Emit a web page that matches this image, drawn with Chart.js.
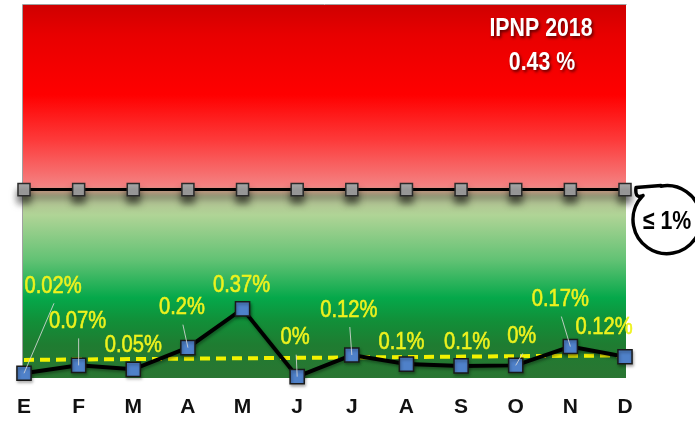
<!DOCTYPE html>
<html><head><meta charset="utf-8">
<script src="https://cdn.jsdelivr.net/npm/chart.js@4/dist/chart.umd.min.js"></script>
<style>html,body{margin:0;padding:0;background:#fff;}#wrap{width:695px;height:421px;}</style>
</head><body><div id="wrap"><canvas id="c" width="695" height="421"></canvas></div>
<script>
// ---- data ----
const months = ['E','F','M','A','M','J','J','A','S','O','N','D'];
const monthlyValues = [0.025,0.067,0.046,0.161,0.367,0.007,0.122,0.074,0.064,0.067,0.167,0.113];
const valueLabels = ['0.02%','0.07%','0.05%','0.2%','0.37%','0%','0.12%','0.1%','0.1%','0%','0.17%','0.12%'];
const limitValues = [1,1,1,1,1,1,1,1,1,1,1,1];
const trendValues = [0.096,null,null,null,null,null,null,null,null,null,null,0.12];
const titleLines = ['IPNP 2018','0.43 %'];
const limitLabel = '≤ 1%';

// ---- layout / style (not data) ----
const FONT = "'Liberation Sans',Arial,sans-serif";
const NARROW = 0.82;
const labelOffsets = [[29,-88],[-1,-45],[0,-25],[-6,-41],[-1,-24],[-2,-40],[-3,-46],[-5,-23],[6,-25],[6,-30],[-10,-48],[-21,-30]];
const leaderOn = [1,1,0,1,0,1,1,0,0,1,1,0];

function narrowText(ctx, txt, x, y, sx){
  ctx.save(); ctx.translate(x, y); ctx.scale(sx || NARROW, 1); ctx.fillText(txt, 0, 0); ctx.restore();
}

const bgPlugin = {
  id:'bg',
  beforeDatasetsDraw(chart){
    const {ctx, chartArea:a} = chart;
    const top = a.top, bot = a.bottom, h = bot - top;
    const g = ctx.createLinearGradient(0, top, 0, bot);
    const st = (y,c)=>g.addColorStop(Math.min(1,Math.max(0,(y-top)/h)), c);
    st(5,'#cf0000'); st(35,'#e80000'); st(95,'#ff0000'); st(140,'#fd3a3a');
    st(186,'#f48282'); st(191,'#c8a088'); st(197,'#b2bc92'); st(215,'#b0d496');
    st(260,'#62c274'); st(298,'#05a84a'); st(322,'#128e38'); st(345,'#1f7c31'); st(378,'#2a7532');
    ctx.save();
    ctx.fillStyle = g;
    ctx.fillRect(a.left-1, top, a.right-a.left+2, h);
    ctx.strokeStyle = '#a0a0a0'; ctx.lineWidth = 1;
    ctx.beginPath(); ctx.moveTo(a.left-1.5, bot); ctx.lineTo(a.left-1.5, top-0.5); ctx.lineTo(a.right+1.5, top-0.5); ctx.stroke();
    ctx.restore();
  },
  beforeDatasetDraw(chart, args){
    const ctx = chart.ctx;
    ctx.save();
    if (args.index === 0){
      ctx.shadowColor = 'rgba(0,0,0,0.55)'; ctx.shadowBlur = 7; ctx.shadowOffsetY = 7; ctx.shadowOffsetX = 0;
    } else if (args.index === 2){
      ctx.shadowColor = 'rgba(0,0,0,0.35)'; ctx.shadowBlur = 3; ctx.shadowOffsetY = 2; ctx.shadowOffsetX = 1;
    }
  },
  afterDatasetDraw(chart){ chart.ctx.restore(); },
  afterDraw(chart){
    const ctx = chart.ctx;
    const meta = chart.getDatasetMeta(2);
    ctx.save();
    // leader lines
    ctx.strokeStyle = 'rgba(215,215,215,0.85)'; ctx.lineWidth = 1;
    meta.data.forEach((p,i)=>{
      if(!leaderOn[i]) return;
      const lx = p.x + labelOffsets[i][0] + 1, ly = p.y + labelOffsets[i][1] + 18;
      ctx.beginPath(); ctx.moveTo(lx, ly); ctx.lineTo(p.x, p.y); ctx.stroke();
    });
    // value labels
    ctx.fillStyle = '#eef21e'; ctx.font = '24px ' + FONT;
    ctx.textAlign = 'center'; ctx.textBaseline = 'middle';
    ctx.strokeStyle = '#eef21e'; ctx.lineWidth = 0.6;
    meta.data.forEach((p,i)=>{
      const x = p.x + labelOffsets[i][0], y = p.y + labelOffsets[i][1] + 1;
      ctx.save(); ctx.translate(x, y); ctx.scale(0.84, 1);
      ctx.fillText(valueLabels[i], 0, 0); ctx.strokeText(valueLabels[i], 0, 0);
      ctx.restore();
    });
    // title
    ctx.font = 'bold 26px ' + FONT; ctx.textBaseline = 'alphabetic';
    ctx.shadowColor = 'rgba(60,0,0,0.8)'; ctx.shadowBlur = 3; ctx.shadowOffsetX = 1.5; ctx.shadowOffsetY = 2;
    ctx.fillStyle = '#ffffff';
    narrowText(ctx, titleLines[0], 541, 36);
    narrowText(ctx, titleLines[1], 542, 70);
    ctx.restore();
    // callout
    const lim = chart.getDatasetMeta(0).data[11];
    const cx = lim.x + 42, cy = lim.y + 30, r = 34;
    const a0 = Math.PI * 1.25;
    ctx.save();
    ctx.strokeStyle = '#000'; ctx.lineWidth = 3.5; ctx.lineJoin = 'round'; ctx.lineCap = 'round';
    ctx.beginPath();
    ctx.moveTo(cx + r*Math.cos(a0), cy + r*Math.sin(a0));
    ctx.lineTo(lim.x + 14, lim.y + 7);
    ctx.quadraticCurveTo(lim.x + 10, lim.y + 6, lim.x + 11, lim.y - 2);
    ctx.lineTo(cx - 6, cy - r);
    ctx.arc(cx, cy, r, -Math.PI/2 - 0.18, a0, false);
    ctx.stroke();
    ctx.fillStyle = '#000'; ctx.font = 'bold 26px ' + FONT;
    ctx.textAlign = 'center'; ctx.textBaseline = 'middle';
    narrowText(ctx, limitLabel, cx, cy + 2);
    ctx.restore();
  }
};

new Chart(document.getElementById('c'), {
  type:'line',
  data:{
    labels: months,
    datasets:[
      {label:'Límite', data:limitValues, order:2, borderColor:'#000', borderWidth:3, tension:0,
       pointStyle:'rect', pointRadius:8.5, pointBackgroundColor:'#a8a8a8', pointBorderColor:'#2a2a2a', pointBorderWidth:1.5},
      {label:'Tendencia', data:trendValues, order:1, spanGaps:true, borderColor:'#f2f200', borderWidth:4,
       borderDash:[10,6], pointRadius:0, tension:0},
      {label:'IPNP', data:monthlyValues, order:0, borderColor:'#000', borderWidth:4, tension:0,
       pointStyle:'rect', pointRadius:10, pointBackgroundColor:'#4f81c9', pointBorderColor:'#1a1a1a', pointBorderWidth:1.5}
    ]
  },
  options:{
    responsive:false, devicePixelRatio:1, animation:false, clip:false,
    layout:{autoPadding:false, padding:{left:22, right:70, top:5, bottom:0}},
    plugins:{legend:{display:false}, tooltip:{enabled:false}},
    scales:{
      x:{offset:false, grid:{display:false, drawTicks:false}, border:{display:false},
         afterFit(scale){ scale.height = 43; },
         ticks:{padding:17, color:'#111', font:{family:FONT, size:21, weight:'bold'}}},
      y:{display:false, min:0, max:1.98}
    }
  },
  plugins:[bgPlugin]
});
</script></body></html>
